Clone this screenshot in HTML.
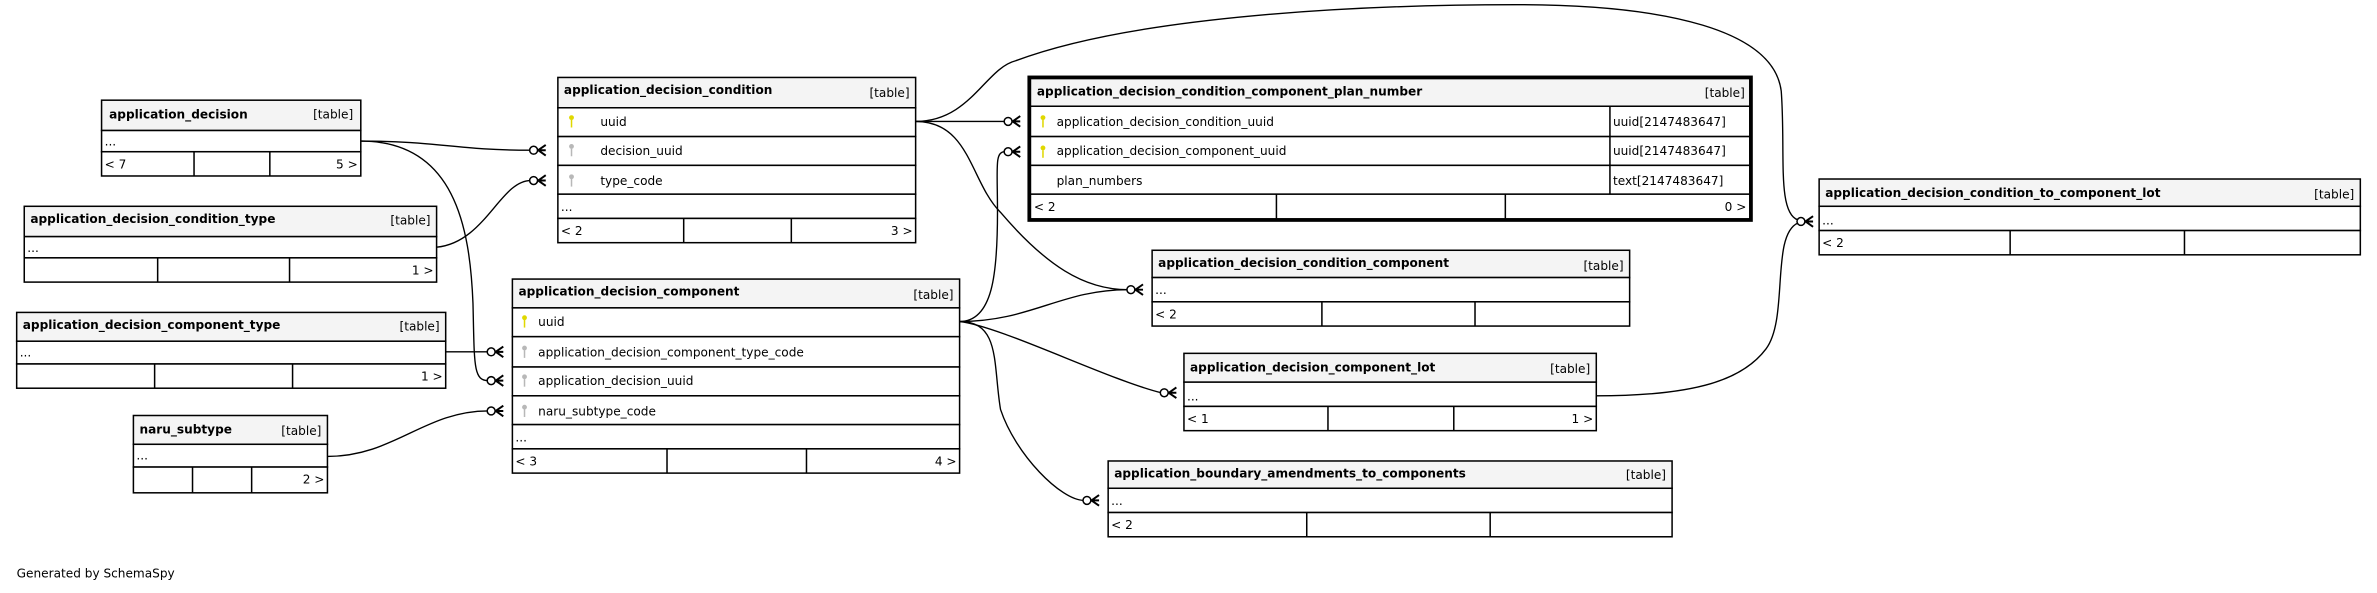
<!DOCTYPE html>
<html><head><meta charset="utf-8"><style>
html,body{margin:0;padding:0;background:#fff;}
svg{display:block}
text{font-family:"DejaVu Sans","Liberation Sans",sans-serif;font-size:8px;fill:#000}
.h{font-weight:bold}
.b{fill:#fff;stroke:#000;stroke-width:1}
.hd{fill:#f4f4f4;stroke:#000;stroke-width:1}
.l{stroke:#000;stroke-width:1;fill:none}
.e{stroke:#000;stroke-width:0.9;fill:none}
.c{fill:#fff;stroke:#000;stroke-width:1}
</style></head><body>
<svg width="2377" height="593" viewBox="0 0 1568 391" xmlns="http://www.w3.org/2000/svg">
<defs>
<g id="cf"><circle cx="-8" cy="0" r="2.6" class="c"/><path d="M-5,0 L0,-3.5 M-5,0 L0,0 M-5,0 L0,3.5" stroke="#000" stroke-width="1.3" fill="none"/></g>
<g id="kp"><circle cx="0" cy="-2.5" r="1.6" fill="#e0d800"/><rect x="-0.5" y="-1" width="1" height="5" fill="#e0d800"/></g>
<g id="kf"><circle cx="0" cy="-2.5" r="1.6" fill="#b8b8b8"/><rect x="-0.5" y="-1" width="1" height="5" fill="#b8b8b8"/></g>
</defs>

<!-- edges -->
<path class="e" d="M238,93 C290,93 300,99 350,99"/>
<path class="e" d="M238,93 C300,93 310,150 312,200 C313,240 312,251 322,251"/>
<path class="e" d="M288,163 C320,160 330,119 350,119"/>
<path class="e" d="M294,232 L322,232"/>
<path class="e" d="M216,301 C260,301 280,271 322,271"/>
<path class="e" d="M604,80 L663,80"/>
<path class="e" d="M604,80 C640,80 640,120 660,140 C690,175 715,191 744,191"/>
<path class="e" d="M604,80 C640,80 650,45 670,40 C750,10 900,3 1000,3 C1100,3 1170,20 1175,60 C1178,100 1172,140 1186,145"/>
<path class="e" d="M633,212 C655,212 658,180 658,140 C658,110 656,100 663,100"/>
<path class="e" d="M633,212 C680,212 700,191 744,191"/>
<path class="e" d="M633,212 C660,215 730,250 766,259"/>
<path class="e" d="M633,212 C660,212 655,240 660,270 C670,300 700,330 715,330"/>
<path class="e" d="M1053,261 C1120,261 1150,250 1165,230 C1180,210 1168,155 1186,147"/>
<use href="#cf" x="360" y="99"/>
<use href="#cf" x="360" y="119"/>
<use href="#cf" x="332" y="232"/>
<use href="#cf" x="332" y="251"/>
<use href="#cf" x="332" y="271"/>
<use href="#cf" x="673" y="80"/>
<use href="#cf" x="673" y="100"/>
<use href="#cf" x="754" y="191"/>
<use href="#cf" x="776" y="259"/>
<use href="#cf" x="725" y="330"/>
<use href="#cf" x="1196" y="146"/>

<!-- application_decision -->
<rect class="hd" x="67" y="66" width="171" height="20"/>
<rect class="b" x="67" y="86" width="171" height="14"/>
<rect class="b" x="67" y="100" width="171" height="16"/>
<path class="l" d="M128,100V116M178,100V116"/>
<text class="h" x="72" y="78">application_decision</text><text x="233" y="78" text-anchor="end">[table]</text>
<text x="69" y="96">...</text><text x="69" y="111">&lt; 7</text><text x="236" y="111" text-anchor="end">5 &gt;</text>

<!-- application_decision_condition_type -->
<rect class="hd" x="16" y="136" width="272" height="20"/>
<rect class="b" x="16" y="156" width="272" height="14"/>
<rect class="b" x="16" y="170" width="272" height="16"/>
<path class="l" d="M104,170V186M191,170V186"/>
<text class="h" x="20" y="147">application_decision_condition_type</text><text x="284" y="148" text-anchor="end">[table]</text>
<text x="18" y="166">...</text><text x="286" y="181" text-anchor="end">1 &gt;</text>

<!-- application_decision_component_type -->
<rect class="hd" x="11" y="206" width="283" height="19"/>
<rect class="b" x="11" y="225" width="283" height="15"/>
<rect class="b" x="11" y="240" width="283" height="16"/>
<path class="l" d="M102,240V256M193,240V256"/>
<text class="h" x="15" y="217">application_decision_component_type</text><text x="290" y="218" text-anchor="end">[table]</text>
<text x="13" y="235">...</text><text x="292" y="251" text-anchor="end">1 &gt;</text>

<!-- naru_subtype -->
<rect class="hd" x="88" y="274" width="128" height="19"/>
<rect class="b" x="88" y="293" width="128" height="15"/>
<rect class="b" x="88" y="308" width="128" height="17"/>
<path class="l" d="M127,308V325M166,308V325"/>
<text class="h" x="92" y="286">naru_subtype</text><text x="212" y="287" text-anchor="end">[table]</text>
<text x="90" y="303">...</text><text x="214" y="319" text-anchor="end">2 &gt;</text>

<!-- application_decision_condition -->
<rect class="hd" x="368" y="51" width="236" height="20"/>
<rect class="b" x="368" y="71" width="236" height="19"/>
<rect class="b" x="368" y="90" width="236" height="19"/>
<rect class="b" x="368" y="109" width="236" height="19"/>
<rect class="b" x="368" y="128" width="236" height="16"/>
<rect class="b" x="368" y="144" width="236" height="16"/>
<path class="l" d="M451,144V160M522,144V160"/>
<text class="h" x="372" y="62">application_decision_condition</text><text x="600" y="64" text-anchor="end">[table]</text>
<use href="#kp" x="377" y="80"/><text x="396" y="83">uuid</text>
<use href="#kf" x="377" y="99"/><text x="396" y="102">decision_uuid</text>
<use href="#kf" x="377" y="119"/><text x="396" y="122">type_code</text>
<text x="370" y="139">...</text><text x="370" y="155">&lt; 2</text><text x="602" y="155" text-anchor="end">3 &gt;</text>

<!-- application_decision_component -->
<rect class="hd" x="338" y="184" width="295" height="19"/>
<rect class="b" x="338" y="203" width="295" height="19"/>
<rect class="b" x="338" y="222" width="295" height="20"/>
<rect class="b" x="338" y="242" width="295" height="19"/>
<rect class="b" x="338" y="261" width="295" height="19"/>
<rect class="b" x="338" y="280" width="295" height="16"/>
<rect class="b" x="338" y="296" width="295" height="16"/>
<path class="l" d="M440,296V312M532,296V312"/>
<text class="h" x="342" y="195">application_decision_component</text><text x="629" y="197" text-anchor="end">[table]</text>
<use href="#kp" x="346" y="212"/><text x="355" y="215">uuid</text>
<use href="#kf" x="346" y="232"/><text x="355" y="235">application_decision_component_type_code</text>
<use href="#kf" x="346" y="251"/><text x="355" y="254">application_decision_uuid</text>
<use href="#kf" x="346" y="271"/><text x="355" y="274">naru_subtype_code</text>
<text x="340" y="291">...</text><text x="340" y="307">&lt; 3</text><text x="631" y="307" text-anchor="end">4 &gt;</text>

<!-- plan_number -->
<rect class="hd" x="679" y="51" width="476" height="19"/>
<rect class="b" x="679" y="70" width="476" height="20"/>
<rect class="b" x="679" y="90" width="476" height="19"/>
<rect class="b" x="679" y="109" width="476" height="19"/>
<rect class="b" x="679" y="128" width="476" height="17"/>
<path class="l" d="M1062,70V128M842,128V145M993,128V145"/>
<rect x="679" y="51" width="476" height="94" fill="none" stroke="#000" stroke-width="2.5"/>
<text class="h" x="684" y="63">application_decision_condition_component_plan_number</text><text x="1151" y="64" text-anchor="end">[table]</text>
<use href="#kp" x="688" y="80"/><text x="697" y="83">application_decision_condition_uuid</text><text x="1064" y="83">uuid[2147483647]</text>
<use href="#kp" x="688" y="100"/><text x="697" y="102">application_decision_component_uuid</text><text x="1064" y="102">uuid[2147483647]</text>
<text x="697" y="122">plan_numbers</text><text x="1064" y="122">text[2147483647]</text>
<text x="682" y="139">&lt; 2</text><text x="1152" y="139" text-anchor="end">0 &gt;</text>

<!-- condition_component -->
<rect class="hd" x="760" y="165" width="315" height="18"/>
<rect class="b" x="760" y="183" width="315" height="16"/>
<rect class="b" x="760" y="199" width="315" height="16"/>
<path class="l" d="M872,199V215M973,199V215"/>
<text class="h" x="764" y="176">application_decision_condition_component</text><text x="1071" y="178" text-anchor="end">[table]</text>
<text x="762" y="194">...</text><text x="762" y="210">&lt; 2</text>

<!-- component_lot -->
<rect class="hd" x="781" y="233" width="272" height="19"/>
<rect class="b" x="781" y="252" width="272" height="16"/>
<rect class="b" x="781" y="268" width="272" height="16"/>
<path class="l" d="M876,268V284M959,268V284"/>
<text class="h" x="785" y="245">application_decision_component_lot</text><text x="1049" y="246" text-anchor="end">[table]</text>
<text x="783" y="264">...</text><text x="783" y="279">&lt; 1</text><text x="1051" y="279" text-anchor="end">1 &gt;</text>

<!-- boundary -->
<rect class="hd" x="731" y="304" width="372" height="18"/>
<rect class="b" x="731" y="322" width="372" height="16"/>
<rect class="b" x="731" y="338" width="372" height="16"/>
<path class="l" d="M862,338V354M983,338V354"/>
<text class="h" x="735" y="315">application_boundary_amendments_to_components</text><text x="1099" y="316" text-anchor="end">[table]</text>
<text x="733" y="333">...</text><text x="733" y="349">&lt; 2</text>

<!-- condition_to_component_lot -->
<rect class="hd" x="1200" y="118" width="357" height="18"/>
<rect class="b" x="1200" y="136" width="357" height="16"/>
<rect class="b" x="1200" y="152" width="357" height="16"/>
<path class="l" d="M1326,152V168M1441,152V168"/>
<text class="h" x="1204" y="130">application_decision_condition_to_component_lot</text><text x="1553" y="131" text-anchor="end">[table]</text>
<text x="1202" y="148">...</text><text x="1202" y="163">&lt; 2</text>

<text x="11" y="381">Generated by SchemaSpy</text>
</svg>
</body></html>
